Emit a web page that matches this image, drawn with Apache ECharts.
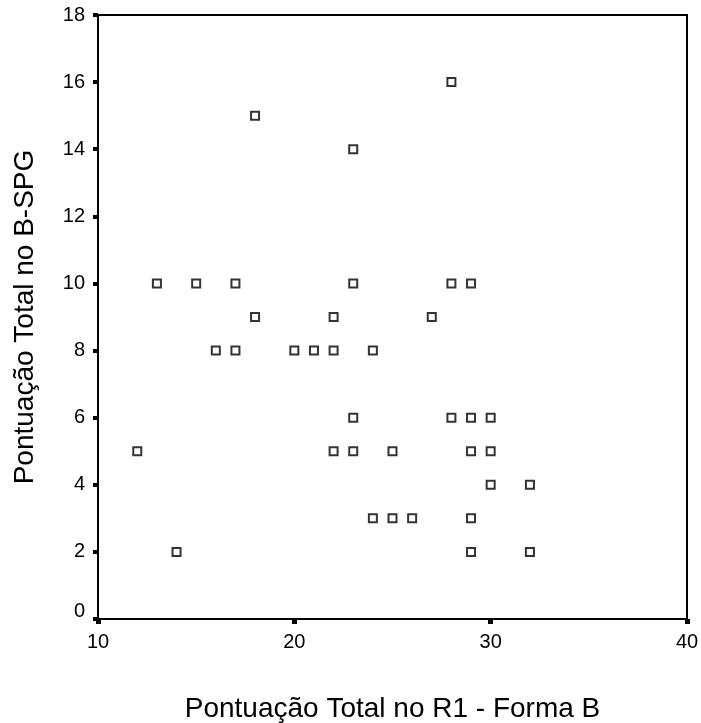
<!DOCTYPE html>
<html>
<head>
<meta charset="utf-8">
<script src="https://cdn.jsdelivr.net/npm/echarts@6/dist/echarts.min.js"></script>
<style>
  html, body { margin: 0; padding: 0; background: #fff; }
  #main { width: 701px; height: 723px; }
</style>
</head>
<body>
<div id="main"></div>
<script>
// Pontuação R1 (x) vs B-SPG (y)
var r1Scores = [12, 13, 14, 15, 16, 17, 17, 18, 18, 20, 21, 22, 22, 22, 23, 23, 23, 23, 24, 24,
  25, 25, 26, 27, 28, 28, 28, 29, 29, 29, 29, 29, 30, 30, 30, 32, 32];
var bspgScores = [5, 10, 2, 10, 8, 10, 8, 15, 9, 8, 8, 9, 8, 5, 14, 10, 6, 5, 8, 3,
  5, 3, 3, 9, 16, 10, 6, 10, 6, 5, 3, 2, 6, 5, 4, 4, 2];
var xTicks = [10, 20, 30, 40];
var yTicks = [0, 2, 4, 6, 8, 10, 12, 14, 16, 18];

var points = [];
for (var i = 0; i < r1Scores.length; i++) {
  points.push([r1Scores[i], bspgScores[i]]);
}

var myChart = echarts.init(document.getElementById("main"));
var font = "'Liberation Sans', Arial, sans-serif";

myChart.setOption({
  animation: false,
  grid: {
    left: 98,
    top: 15,
    right: 14,
    bottom: 104,
    outerBoundsMode: "none",
    containLabel: false,
    show: true,
    borderColor: "#000",
    borderWidth: 2,
    backgroundColor: "#fff"
  },
  xAxis: {
    type: "value",
    min: xTicks[0],
    max: xTicks[xTicks.length - 1],
    interval: 10,
    name: "Pontuação Total no R1 - Forma B",
    nameLocation: "middle",
    nameGap: 76,
    nameTextStyle: { fontFamily: font, fontSize: 28, color: "#000" },
    axisLine: { show: true, lineStyle: { color: "#000", width: 2 } },
    axisTick: { show: true, inside: false, length: 5, lineStyle: { color: "#000", width: 5 } },
    axisLabel: { fontFamily: font, fontSize: 20, color: "#000", margin: 13 },
    splitLine: { show: false }
  },
  yAxis: {
    type: "value",
    min: yTicks[0],
    max: yTicks[yTicks.length - 1],
    interval: 2,
    name: "Pontuação Total no B-SPG",
    nameLocation: "middle",
    nameGap: 59,
    nameTextStyle: { fontFamily: font, fontSize: 28, color: "#000" },
    axisLine: { show: true, lineStyle: { color: "#000", width: 2 } },
    axisTick: { show: true, inside: false, length: 5, lineStyle: { color: "#000", width: 4 } },
    axisLabel: {
      fontFamily: font, fontSize: 20, color: "#000", margin: 13,
      formatter: function (v) { return v === 0 ? "{z|0}" : String(v); },
      rich: { z: { fontFamily: font, fontSize: 20, color: "#000", padding: [0, 0, 16, 0] } }
    },
    splitLine: { show: false }
  },
  series: [
    {
      type: "scatter",
      data: points,
      symbol: "rect",
      symbolSize: 8,
      itemStyle: { color: "#fff", borderColor: "#000", borderWidth: 2 }
    }
  ]
});
</script>
</body>
</html>
